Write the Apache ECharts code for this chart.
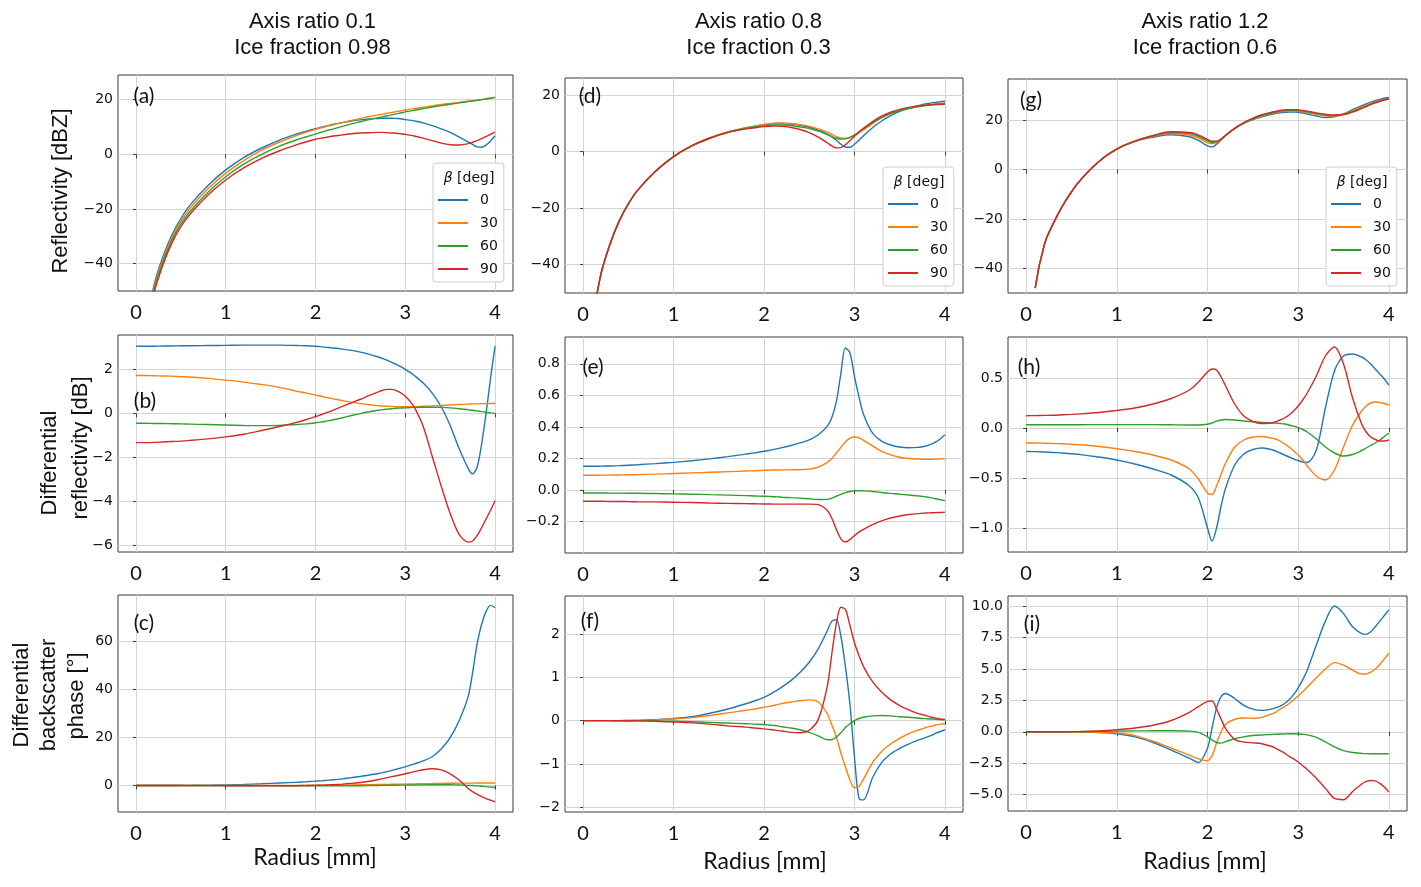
<!DOCTYPE html>
<html><head><meta charset="utf-8">
<script src="https://cdn.jsdelivr.net/npm/echarts@6/dist/echarts.min.js"></script>
<style>html,body{margin:0;padding:0;background:#fff}#c{width:1421px;height:887px}</style>
</head><body><div id="c"></div>
<script>
// ---------------- DATA ----------------
const radius = [0,0.1,0.2,0.3,0.4,0.5,0.6, 0.8,1.0,1.2,1.4,1.6,1.8, 1.9,2.0,2.05,2.1,2.15,2.2, 2.3,2.4,2.5,2.6,2.7, 2.75,2.8,2.85,2.9,2.95,3.0, 3.05,3.1,3.2,3.3,3.4,3.5, 3.6,3.7,3.75,3.8,3.85,3.9,3.95,4.0];
const betaDeg = ['0','30','60','90'];
const radiusTicks = [0,1,2,3,4];
const reflTicks = [-40,-20,0,20];
const zdrTicksB = [-6,-4,-2,0,2];
const zdrTicksE = [-0.2,0,0.2,0.4,0.6,0.8];
const zdrTicksH = [-1,-0.5,0,0.5];
const deltaTicksC = [0,20,40,60];
const deltaTicksF = [-2,-1,0,1,2];
const deltaTicksI = [-5,-2.5,0,2.5,5,7.5,10];
const colTitles = [['Axis ratio 0.1','Ice fraction 0.98'],['Axis ratio 0.8','Ice fraction 0.3'],['Axis ratio 1.2','Ice fraction 0.6']];
const panelLetters = ['(a)','(b)','(c)','(d)','(e)','(f)','(g)','(h)','(i)'];

// (a) reflectivity, axis ratio 0.1
const a0  = [null,-66,-48,-37.5,-29.5,-23.5,-18.7, -11.5,-5.7,-1.2,2.3,5.2,7.5, 8.5,9.4,9.8,10.2,10.6,11.0, 11.6,12.2,12.6,12.9,13.1, 13.2,13.2,13.2,13.1,13.0,12.7, 12.5,12.2,11.5,10.5,9.3,8.0, 6.3,4.5,3.6,2.7,2.6,3.4,4.9,6.8];
const a30 = [null,-67,-49,-38.5,-30.5,-24.5,-19.8, -12.7,-6.9,-2.3,1.5,4.5,7.0, 8.1,9.1,9.6,10.0,10.4,10.8, 11.6,12.4,13.1,13.8,14.4, 14.7,15.0,15.3,15.6,15.9,16.2, 16.5,16.7,17.2,17.7,18.2,18.6, 19.0,19.4,19.6,19.8,20.0,20.3,20.55,20.8];
const a60 = [null,-68,-50,-39.5,-31.5,-25.5,-21, -14,-8.2,-3.6,0.0,3.0,5.4, 6.4,7.4,7.9,8.4,8.9,9.3, 10.2,11.1,11.9,12.7,13.4, 13.7,14.1,14.4,14.8,15.1,15.5, 15.8,16.1,16.7,17.3,17.8,18.3, 18.8,19.3,19.5,19.7,20.0,20.2,20.5,20.8];
const a90 = [null,-69,-51,-40.5,-32.5,-26.5,-22, -15,-9.4,-5.0,-1.5,1.3,3.6, 4.6,5.5,5.8,6.1,6.4,6.7, 7.1,7.5,7.8,7.9,8.0, 8.0,7.9,7.8,7.7,7.5,7.3, 7.0,6.7,5.9,5.0,4.1,3.5, 3.4,3.9,4.4,5.0,5.7,6.5,7.3,8.1];
// (b) differential reflectivity, axis ratio 0.1
const b0  = [3.05,3.05,3.05,3.06,3.06,3.07,3.07, 3.08,3.09,3.1,3.1,3.1,3.08, 3.07,3.05,3.03,3.01,2.99,2.97, 2.92,2.86,2.78,2.68,2.56, 2.49,2.41,2.32,2.22,2.12,2.0, 1.87,1.72,1.38,0.92,0.3,-0.55, -1.6,-2.5,-2.75,-2.45,-1.4,0.0,1.6,3.05];
const b30 = [1.72,1.72,1.71,1.7,1.69,1.67,1.65, 1.59,1.51,1.42,1.31,1.18,1.0, 0.92,0.83,0.79,0.74,0.7,0.66, 0.58,0.5,0.44,0.39,0.35, 0.33,0.32,0.31,0.3,0.3,0.3, 0.3,0.3,0.32,0.34,0.36,0.38, 0.4,0.42,0.43,0.43,0.44,0.44,0.45,0.45];
const b60 = [-0.45,-0.45,-0.46,-0.46,-0.47,-0.48,-0.49, -0.51,-0.53,-0.55,-0.56,-0.55,-0.51, -0.48,-0.43,-0.4,-0.37,-0.33,-0.29, -0.2,-0.1,-0.01,0.07,0.14, 0.17,0.19,0.21,0.23,0.24,0.25, 0.26,0.27,0.28,0.28,0.27,0.25, 0.21,0.16,0.14,0.11,0.08,0.05,0.02,0.0];
const b90 = [-1.33,-1.33,-1.32,-1.3,-1.28,-1.26,-1.23, -1.16,-1.07,-0.95,-0.78,-0.6,-0.4, -0.28,-0.15,-0.08,0.0,0.07,0.15, 0.32,0.48,0.64,0.82,0.98, 1.05,1.09,1.09,1.03,0.93,0.78, 0.56,0.28,-0.6,-1.95,-3.3,-4.55, -5.5,-5.85,-5.8,-5.55,-5.2,-4.8,-4.4,-3.97];
// (c) differential backscatter phase, axis ratio 0.1
const c0  = [0,0,0.01,0.02,0.04,0.06,0.09, 0.17,0.3,0.5,0.75,1.05,1.4, 1.6,1.85,1.95,2.1,2.25,2.4, 2.8,3.3,3.8,4.4,5.0, 5.4,5.8,6.3,6.8,7.3,7.8, 8.4,9.0,10.3,12.0,15.2,20, 27,37,47,59,67,72.5,75,74];
const c30 = [0,0,0,0,0,0,0, 0.01,0.02,0.03,0.05,0.07,0.1, 0.12,0.14,0.15,0.17,0.18,0.2, 0.24,0.28,0.33,0.38,0.44, 0.47,0.5,0.53,0.56,0.59,0.62, 0.66,0.7,0.78,0.85,0.92,0.97, 1.0,1.02,1.03,1.04,1.05,1.06,1.07,1.08];
const c60 = [0,0,0,0,0,0,0, -0.005,-0.01,-0.02,-0.03,-0.05,-0.07, -0.08,-0.09,-0.1,-0.1,-0.1,-0.1, -0.1,-0.08,-0.05,0,0.05, 0.08,0.1,0.13,0.15,0.18,0.2, 0.23,0.25,0.3,0.33,0.35,0.33, 0.25,0.1,0.0,-0.12,-0.27,-0.43,-0.62,-0.8];
const c90 = [0,0,0,0,0,0,-0.01, -0.02,-0.05,-0.08,-0.1,-0.1,-0.05, 0.0,0.08,0.14,0.2,0.28,0.37, 0.6,0.9,1.3,1.8,2.5, 2.9,3.3,3.7,4.1,4.5,4.9, 5.35,5.8,6.6,7.0,6.5,4.9, 2.3,-1.2,-2.5,-3.6,-4.6,-5.4,-6.1,-6.8];
// (d) reflectivity, axis ratio 0.8
const d0  = [null,-60,-43,-32.5,-24.5,-18.5,-13.8, -7.0,-1.8,2.0,4.8,6.9,8.4, 9.0,9.5,9.7,9.8,9.9,9.9, 9.7,9.3,8.6,7.6,6.2, 5.2,4.0,2.6,1.6,1.5,2.6, 4.0,5.6,8.4,10.8,12.7,14.2, 15.3,16.2,16.6,16.9,17.2,17.4,17.6,17.8];
const d30 = [null,-60,-43,-32.5,-24.5,-18.5,-13.8, -7.0,-1.8,2.0,4.8,6.9,8.4, 9.0,9.6,9.8,10.0,10.1,10.1, 9.9,9.5,8.9,8.0,6.9, 6.1,5.3,4.8,4.7,4.9,5.6, 6.6,7.7,9.9,11.9,13.5,14.6, 15.4,16.0,16.3,16.5,16.7,16.9,17.0,17.1];
const d60 = [null,-60,-43,-32.5,-24.5,-18.5,-13.8, -7.0,-1.8,2.0,4.7,6.8,8.2, 8.7,9.1,9.3,9.4,9.4,9.4, 9.2,8.7,8.1,7.2,6.0, 5.3,4.7,4.4,4.5,5.0,5.9, 7.0,8.1,10.2,12.0,13.4,14.4, 15.2,15.8,16.1,16.3,16.5,16.7,16.85,17.0];
const d90 = [null,-60,-43,-32.5,-24.5,-18.5,-13.8, -7.0,-1.8,2.0,4.7,6.7,8.0, 8.4,8.8,8.9,9.0,9.0,8.9, 8.5,7.8,6.7,5.1,3.1, 2.0,1.3,1.4,2.4,3.9,5.4, 6.9,8.2,10.6,12.5,13.9,14.9, 15.6,16.1,16.3,16.4,16.5,16.6,16.65,16.7];
// (e) differential reflectivity, axis ratio 0.8
const e0  = [0.15,0.15,0.151,0.152,0.154,0.157,0.16, 0.167,0.175,0.185,0.197,0.211,0.227, 0.235,0.245,0.25,0.256,0.262,0.268, 0.282,0.298,0.318,0.35,0.405, 0.46,0.56,0.74,0.9,0.87,0.72, 0.59,0.48,0.36,0.31,0.285,0.272, 0.268,0.27,0.274,0.28,0.29,0.305,0.325,0.35];
const e30 = [0.093,0.093,0.094,0.094,0.095,0.096,0.097, 0.1,0.104,0.108,0.112,0.116,0.12, 0.122,0.124,0.125,0.126,0.126,0.127, 0.128,0.129,0.132,0.145,0.175, 0.2,0.235,0.27,0.305,0.328,0.336, 0.33,0.315,0.28,0.245,0.222,0.207, 0.199,0.196,0.195,0.195,0.195,0.196,0.197,0.198];
const e60 = [-0.019,-0.019,-0.019,-0.02,-0.02,-0.021,-0.021, -0.023,-0.025,-0.027,-0.03,-0.033,-0.036, -0.038,-0.04,-0.041,-0.043,-0.044,-0.046, -0.049,-0.052,-0.056,-0.061,-0.06, -0.052,-0.04,-0.028,-0.017,-0.01,-0.006, -0.005,-0.006,-0.01,-0.016,-0.022,-0.027, -0.032,-0.038,-0.041,-0.045,-0.05,-0.056,-0.062,-0.068];
const e90 = [-0.072,-0.072,-0.072,-0.073,-0.073,-0.074,-0.075, -0.076,-0.078,-0.08,-0.083,-0.085,-0.087, -0.088,-0.089,-0.089,-0.09,-0.09,-0.09, -0.09,-0.09,-0.09,-0.093,-0.13, -0.18,-0.25,-0.31,-0.33,-0.315,-0.29, -0.268,-0.25,-0.22,-0.196,-0.178,-0.165, -0.156,-0.15,-0.148,-0.146,-0.145,-0.144,-0.143,-0.142];
// (f) differential backscatter phase, axis ratio 0.8
const f0  = [0,0,0,0,0.002,0.004,0.007, 0.02,0.05,0.09,0.17,0.27,0.39, 0.46,0.54,0.59,0.65,0.71,0.78, 0.93,1.12,1.35,1.66,2.08, 2.3,2.33,1.95,1.25,0.38,-0.84, -1.8,-1.83,-1.32,-0.97,-0.77,-0.64, -0.54,-0.45,-0.42,-0.38,-0.34,-0.29,-0.25,-0.21];
const f30 = [0,0,0,0,0.001,0.003,0.005, 0.015,0.04,0.07,0.12,0.18,0.24, 0.27,0.31,0.33,0.35,0.37,0.4, 0.43,0.46,0.48,0.43,0.16, -0.1,-0.38,-0.75,-1.07,-1.37,-1.55, -1.52,-1.35,-0.97,-0.71,-0.54,-0.41, -0.3,-0.22,-0.19,-0.15,-0.13,-0.1,-0.08,-0.07];
const f60 = [0,0,0,0,0,-0.001,-0.002, -0.006,-0.015,-0.025,-0.04,-0.055,-0.07, -0.08,-0.09,-0.1,-0.11,-0.12,-0.14, -0.17,-0.21,-0.27,-0.35,-0.44, -0.44,-0.38,-0.28,-0.16,-0.07,0.0, 0.05,0.08,0.11,0.12,0.11,0.09, 0.08,0.06,0.05,0.045,0.04,0.03,0.025,0.02];
const f90 = [0,0,0,0,-0.001,-0.002,-0.004, -0.012,-0.03,-0.05,-0.08,-0.12,-0.15, -0.17,-0.19,-0.2,-0.21,-0.23,-0.24, -0.27,-0.28,-0.22,0.03,0.8, 1.55,2.25,2.62,2.57,2.2,1.8, 1.5,1.25,0.9,0.66,0.48,0.35, 0.25,0.17,0.14,0.11,0.08,0.06,0.04,0.03];
// (g) reflectivity, axis ratio 1.2
const g0  = [null,-48,-30.5,-21.8,-14.8,-9,-4.2, 3.2,8.3,11.3,13.1,14.1,13.3, 11.8,9.6,9.2,10.3,12.0,13.7, 16.6,18.7,20.2,21.4,22.3, 22.7,23.0,23.2,23.3,23.3,23.2, 22.9,22.5,21.7,21.1,21.4,22.6, 24.3,25.9,26.6,27.3,27.9,28.4,28.9,29.2];
const g30 = [null,-48,-30.5,-21.8,-14.8,-9,-4.2, 3.2,8.3,11.4,13.4,14.6,14.0, 12.8,10.9,10.5,11.0,12.3,13.8, 16.6,18.8,20.4,21.7,22.7, 23.1,23.4,23.6,23.7,23.7,23.6, 23.4,23.1,22.4,21.8,21.7,22.5, 23.9,25.4,26.1,26.8,27.4,27.9,28.4,28.8];
const g60 = [null,-48,-30.5,-21.8,-14.8,-9,-4.2, 3.2,8.3,11.5,13.6,15.0,14.6, 13.5,11.6,11.0,11.3,12.4,13.9, 16.7,18.9,20.6,21.9,22.9, 23.3,23.7,23.9,24.0,24.0,23.9, 23.7,23.4,22.7,22.1,21.9,22.4, 23.6,25.0,25.8,26.5,27.2,27.8,28.3,28.7];
const g90 = [null,-48,-30.5,-21.8,-14.8,-9,-4.2, 3.2,8.3,11.6,13.8,15.3,15.0, 14.0,12.2,11.5,11.5,12.4,13.9, 16.7,19.0,20.8,22.2,23.2, 23.6,24.0,24.2,24.3,24.3,24.2, 24.0,23.7,23.0,22.4,22.1,22.3, 23.3,24.7,25.5,26.3,27.0,27.6,28.2,28.6];
// (h) differential reflectivity, axis ratio 1.2
const h0  = [-0.235,-0.236,-0.24,-0.245,-0.25,-0.258,-0.266, -0.29,-0.32,-0.36,-0.41,-0.47,-0.58, -0.7,-1.0,-1.13,-1.0,-0.78,-0.6, -0.37,-0.26,-0.215,-0.2,-0.215, -0.23,-0.25,-0.27,-0.29,-0.31,-0.325, -0.34,-0.345,-0.22,0.2,0.57,0.72, 0.74,0.71,0.68,0.64,0.59,0.54,0.49,0.43];
const h30 = [-0.15,-0.15,-0.152,-0.155,-0.158,-0.163,-0.168, -0.185,-0.207,-0.235,-0.27,-0.32,-0.41, -0.51,-0.65,-0.665,-0.58,-0.46,-0.35, -0.19,-0.12,-0.09,-0.085,-0.1, -0.11,-0.13,-0.16,-0.19,-0.23,-0.27, -0.32,-0.38,-0.48,-0.52,-0.42,-0.19, 0.03,0.17,0.22,0.25,0.26,0.255,0.245,0.23];
const h60 = [0.033,0.033,0.033,0.033,0.033,0.033,0.033, 0.034,0.034,0.034,0.034,0.032,0.03, 0.03,0.038,0.05,0.068,0.08,0.085, 0.08,0.07,0.062,0.056,0.052, 0.05,0.045,0.04,0.03,0.018,0.003, -0.015,-0.04,-0.11,-0.19,-0.25,-0.28, -0.265,-0.225,-0.2,-0.175,-0.15,-0.12,-0.085,-0.05];
const h90 = [0.123,0.124,0.126,0.128,0.132,0.136,0.141, 0.155,0.175,0.2,0.24,0.295,0.38, 0.46,0.56,0.59,0.58,0.51,0.42, 0.24,0.12,0.065,0.045,0.05, 0.06,0.08,0.1,0.13,0.17,0.22, 0.28,0.35,0.52,0.72,0.81,0.64, 0.3,0.04,-0.04,-0.09,-0.115,-0.13,-0.13,-0.12];
// (i) differential backscatter phase, axis ratio 1.2
const i0  = [0,0,0,0,-0.005,-0.01,-0.02, -0.06,-0.16,-0.4,-0.85,-1.45,-2.1, -2.45,-1.3,0.3,1.9,2.8,3.05, 2.65,2.1,1.8,1.7,1.8, 1.9,2.05,2.25,2.55,2.95,3.5, 4.15,4.9,6.9,8.8,10.0,9.4, 8.35,7.8,7.75,7.95,8.35,8.8,9.25,9.7];
const i30 = [0,0,0,0,-0.004,-0.008,-0.015, -0.04,-0.1,-0.3,-0.75,-1.3,-1.85, -2.15,-2.3,-1.9,-0.9,0.0,0.6, 1.0,1.1,1.08,1.15,1.4, 1.55,1.8,2.0,2.25,2.55,2.85, 3.2,3.55,4.3,5.0,5.5,5.3, 4.9,4.6,4.6,4.75,5.0,5.35,5.8,6.25];
const i60 = [0,0,0,0,0.005,0.01,0.015, 0.03,0.05,0.07,0.08,0.08,0.05, -0.05,-0.4,-0.65,-0.85,-0.9,-0.78, -0.55,-0.4,-0.3,-0.25,-0.21, -0.2,-0.18,-0.17,-0.16,-0.16,-0.17, -0.2,-0.25,-0.45,-0.8,-1.2,-1.5, -1.65,-1.72,-1.74,-1.75,-1.75,-1.75,-1.75,-1.75];
const i90 = [0,0,0,0.002,0.005,0.01,0.02, 0.06,0.16,0.3,0.52,0.9,1.55, 2.0,2.42,2.45,1.8,1.0,0.25, -0.6,-0.82,-0.88,-0.95,-1.15, -1.3,-1.5,-1.7,-1.95,-2.15,-2.4, -2.7,-3.0,-3.7,-4.5,-5.3,-5.4, -4.75,-4.15,-3.95,-3.87,-3.9,-4.1,-4.4,-4.8];

// ---------------- LAYOUT ----------------
const panels = [
  {box:[118,75,395,216],  y:[-50,29],     ticks:reflTicks,   dec:0, sm:0.3, data:[a0,a30,a60,a90], letter:[144,96]},
  {box:[118,335,395,217], y:[-6.3,3.56],  ticks:zdrTicksB,   dec:0, sm:0.3, data:[b0,b30,b60,b90], letter:[145,401]},
  {box:[118,595,395,217], y:[-11,79.3],   ticks:deltaTicksC, dec:0, sm:0.3, data:[c0,c30,c60,c90], letter:[144,623]},
  {box:[565,78,398,215],  y:[-50,26],     ticks:reflTicks,   dec:0, sm:0.3, data:[d0,d30,d60,d90], letter:[590,96]},
  {box:[565,337,398,216], y:[-0.4,0.97],  ticks:zdrTicksE,   dec:1, sm:0.3, data:[e0,e30,e60,e90], letter:[593,367]},
  {box:[565,596,398,216], y:[-2.11,2.88], ticks:deltaTicksF, dec:0, sm:0.3, data:[f0,f30,f60,f90], letter:[590,621]},
  {box:[1008,79,399,214], y:[-50,36.7],   ticks:reflTicks,   dec:0, sm:0.5, data:[g0,g30,g60,g90], letter:[1031,100]},
  {box:[1008,337,399,215],y:[-1.24,0.91], ticks:zdrTicksH,   dec:1, sm:0.3, data:[h0,h30,h60,h90], letter:[1029,367]},
  {box:[1008,596,399,215],y:[-6.3,10.8],  ticks:deltaTicksI, dec:1, sm:0.3, data:[i0,i30,i60,i90], letter:[1032,624]}
];
const colors = ['#1f77b4','#ff7f0e','#2ca02c','#d62728'];
function fmt(v, d){ return (v < -1e-9 ? '\u2212' : '') + Math.abs(v).toFixed(d); }

const grids = [], xAxes = [], yAxes = [], series = [], graphics = [];
panels.forEach((p, i) => {
  grids.push({left:p.box[0], top:p.box[1], width:p.box[2], height:p.box[3], show:true,
    borderColor:'#3a3a3a', borderWidth:1, backgroundColor:'rgba(0,0,0,0)', containLabel:false, outerBoundsMode:'none'});
  xAxes.push({type:'value', gridIndex:i, min:-0.2, max:4.2,
    axisLine:{show:false},
    axisTick:{show:true, length:4, lineStyle:{color:'#3a3a3a'}, customValues:radiusTicks},
    axisLabel:{customValues:radiusTicks, margin:12, fontFamily:'Lato', fontSize:20, color:'#111', formatter:v=>String(v)},
    splitLine:{show:true, lineStyle:{color:'#d4d4d4', width:1}}});
  yAxes.push({type:'value', gridIndex:i, min:p.y[0], max:p.y[1],
    axisLine:{show:false},
    axisTick:{show:true, length:3, lineStyle:{color:'#3a3a3a'}, customValues:p.ticks},
    axisLabel:{customValues:p.ticks, margin:5, fontFamily:'DejaVu Sans', fontSize:14, color:'#111', formatter:v=>fmt(v,p.dec)},
    splitLine:{show:true, lineStyle:{color:'#d4d4d4', width:1}}});
  p.data.forEach((d, k) => series.push({type:'line', name:betaDeg[k], xAxisIndex:i, yAxisIndex:i,
    data:radius.map((r, j) => [r, d[j]]), showSymbol:false, symbol:'none', smooth:p.sm, clip:true,
    lineStyle:{width:1.4, color:colors[k]}, itemStyle:{color:colors[k]}, silent:true}));
  graphics.push({type:'text', x:p.letter[0], y:p.letter[1], z:50,
    style:{text:panelLetters[i], fill:'#111', font:'21px Lato', align:'center', verticalAlign:'middle', textAlign:'center', textVerticalAlign:'middle'}});
});

function txt(s, x, y, font, rot){
  return {type:'text', x:x, y:y, rotation:rot||0, z:50,
    style:{text:s, fill:'#111', font:font, align:'center', verticalAlign:'middle', textAlign:'center', textVerticalAlign:'middle'}};
}
const colX = [312.5, 758.5, 1205];
colTitles.forEach((t, c) => { graphics.push(txt(t[0], colX[c], 22, '22px "Liberation Sans"')); graphics.push(txt(t[1], colX[c], 48, '22px "Liberation Sans"')); });
[[315,858],[765,862],[1205,862]].forEach(p => graphics.push(txt('Radius [mm]', p[0], p[1], '23px Lato')));
const R = Math.PI/2, yf = '22px "Liberation Sans"';
graphics.push(txt('Reflectivity [dBZ]', 61, 191, yf, R));
graphics.push(txt('Differential', 50, 463, yf, R));
graphics.push(txt('reflectivity [dB]', 81, 448, yf, R));
graphics.push(txt('Differential', 22, 695, yf, R));
graphics.push(txt('backscatter', 49, 695, yf, R));
graphics.push(txt('phase [\u00b0]', 77, 696, yf, R));

const legendPos = [[433,163],[883,167],[1326,167]];
const legends = legendPos.map(pp => ({data:betaDeg, left:pp[0], top:pp[1], orient:'vertical', selectedMode:false,
  icon:'rect', itemWidth:30, itemHeight:2, itemGap:9, padding:[30,6,6,5],
  backgroundColor:'rgba(255,255,255,0.85)', borderColor:'#cccccc', borderWidth:1, borderRadius:3,
  textStyle:{fontFamily:'DejaVu Sans', fontSize:14, color:'#111', padding:[0,0,0,7]}}));
legendPos.forEach(pp => graphics.push({type:'text', x:pp[0]+36, y:pp[1]+15, z:100,
  style:{text:'{i|\u03b2} [deg]', fill:'#111', font:'14px "DejaVu Sans"', fontFamily:'DejaVu Sans', fontSize:14,
    align:'center', verticalAlign:'middle', textAlign:'center', textVerticalAlign:'middle',
    rich:{i:{fontStyle:'italic', fontFamily:'DejaVu Sans', fontSize:14, fill:'#111'}}}}));

const chart = echarts.init(document.getElementById('c'), null, {renderer:'canvas'});
chart.setOption({animation:false, backgroundColor:'#fff', grid:grids, xAxis:xAxes, yAxis:yAxes,
  legend:legends, series:series, graphic:{elements:graphics}});
</script></body></html>
